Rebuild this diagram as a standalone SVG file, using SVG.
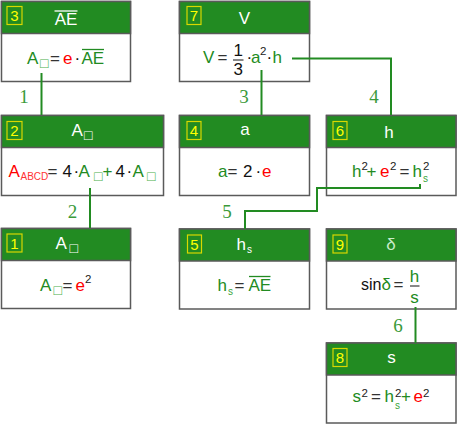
<svg xmlns="http://www.w3.org/2000/svg" width="457" height="425" viewBox="0 0 457 425">
<style>
text{font-family:"Liberation Sans",Arial,sans-serif;font-size:17px}
.box{fill:#fff;stroke:#5a5a5a;stroke-width:1.5}
.hd{fill:#228b22;stroke:#5a5a5a;stroke-width:1.5}
.bd{fill:none;stroke:#d8d800;stroke-width:1.2}
.bn{fill:#ffff00;font-size:15px;text-anchor:middle}
.t{fill:#fff;text-anchor:middle}
.tw{fill:#fff}
.g{fill:#228b22}
.r{fill:#f00}
.k{fill:#111}
.q{fill:#333}
.sq{fill:#4cb04c;font-size:14px}
.sqw{fill:#fff;font-size:14px}
.sup{fill:#222;font-size:11.5px}
.sub{fill:#3aa53a;font-size:10px}
.ov{stroke:#228b22;stroke-width:1.3}
.fr{stroke:#111;stroke-width:1}
.cn{fill:none;stroke:#228b22;stroke-width:2}
.lb{font-family:"Liberation Serif","Times New Roman",serif;font-size:19px;fill:#3a9a3a;text-anchor:middle}
</style>

<g id="node3">
<rect class="box" x="1.5" y="1.5" width="129" height="80"/>
<rect class="hd" x="1.5" y="1.5" width="129" height="32"/>
<rect class="bd" x="7" y="6.5" width="15" height="18"/>
<text class="bn" x="14.5" y="21">3</text>
<text class="t" x="66" y="25">AE</text>
<line x1="54.5" y1="11" x2="77.5" y2="11" stroke="#fff" stroke-width="1.3"/>
<text x="27" y="64" class="g">A</text>
<text x="40" y="68" class="sq">□</text>
<text x="50" y="64" class="q">=</text>
<text x="63" y="64" class="r">e</text>
<text x="74.5" y="64" class="k">·</text>
<text x="81.5" y="64" class="g">AE</text>
<line class="ov" x1="82" y1="49.5" x2="104" y2="49.5"/>
</g>

<g id="node2">
<rect class="box" x="1.5" y="115.5" width="162" height="80"/>
<rect class="hd" x="1.5" y="115.5" width="162" height="32"/>
<rect class="bd" x="7" y="121.5" width="15" height="18"/>
<text class="bn" x="14.5" y="136">2</text>
<text class="tw" x="71.5" y="136">A</text>
<text class="sqw" x="84" y="140">□</text>
<text x="8.5" y="177" class="r">A</text>
<text x="20.5" y="179.5" class="r" style="font-size:10px;fill:#f33">ABCD</text>
<text x="47.5" y="177" class="q">=</text>
<text x="62.5" y="177" class="k">4</text>
<text x="73.5" y="177" class="k">·</text>
<text x="78.5" y="177" class="g">A</text>
<text x="94" y="181" class="sq">□</text>
<text x="102.5" y="177" class="g">+</text>
<text x="115.5" y="177" class="k">4</text>
<text x="126.5" y="177" class="k">·</text>
<text x="132.5" y="177" class="g">A</text>
<text x="147" y="181" class="sq">□</text>
</g>

<g id="node1">
<rect class="box" x="1.5" y="228.5" width="129" height="80"/>
<rect class="hd" x="1.5" y="228.5" width="129" height="32"/>
<rect class="bd" x="7" y="234" width="15" height="18"/>
<text class="bn" x="14.5" y="248.5">1</text>
<text class="tw" x="55.5" y="249">A</text>
<text class="sqw" x="69.5" y="253">□</text>
<text x="40" y="291" class="g">A</text>
<text x="53.5" y="295" class="sq">□</text>
<text x="62.5" y="291" class="q">=</text>
<text x="75.5" y="291" class="r">e</text>
<text x="85" y="283" class="sup">2</text>
</g>

<g id="node7">
<rect class="box" x="179.5" y="1.5" width="130" height="80"/>
<rect class="hd" x="179.5" y="1.5" width="130" height="32"/>
<rect class="bd" x="187" y="6.5" width="14" height="18"/>
<text class="bn" x="194" y="21">7</text>
<text class="t" x="244.5" y="24">V</text>
<text x="203" y="63" class="g">V</text>
<text x="217.5" y="63" class="q">=</text>
<text x="238.3" y="56" class="k" text-anchor="middle">1</text>
<line class="fr" x1="233" y1="60" x2="243.5" y2="60"/>
<text x="238.3" y="75" class="k" text-anchor="middle">3</text>
<text x="246.5" y="63" class="k">·</text>
<text x="251" y="63" class="g">a</text>
<text x="260" y="55" class="sup">2</text>
<text x="266.5" y="63" class="k">·</text>
<text x="272.5" y="63" class="g">h</text>
</g>

<g id="node4">
<rect class="box" x="179.5" y="115.5" width="130" height="80"/>
<rect class="hd" x="179.5" y="115.5" width="130" height="32"/>
<rect class="bd" x="187" y="121.5" width="14" height="18"/>
<text class="bn" x="194" y="136">4</text>
<text class="t" x="245" y="135">a</text>
<text x="218" y="177" class="g">a</text>
<text x="227.5" y="177" class="q">=</text>
<text x="243" y="177" class="k">2</text>
<text x="255.5" y="177" class="k">·</text>
<text x="262" y="177" class="r">e</text>
</g>

<g id="node6">
<rect class="box" x="326.5" y="115.5" width="129.5" height="80"/>
<rect class="hd" x="326.5" y="115.5" width="129.5" height="32"/>
<rect class="bd" x="333" y="121.5" width="14" height="18"/>
<text class="bn" x="340" y="136">6</text>
<text class="t" x="389" y="138">h</text>
<text x="352" y="177" class="g">h</text>
<text x="361.5" y="169.5" class="sup">2</text>
<text x="366.5" y="177" class="g">+</text>
<text x="380" y="177" class="r">e</text>
<text x="390" y="169.5" class="sup">2</text>
<text x="399.5" y="177" class="q">=</text>
<text x="412.5" y="177" class="g">h</text>
<text x="423" y="169.5" class="sup">2</text>
<text x="423" y="181.5" class="sub">s</text>
</g>

<g id="node5">
<rect class="box" x="179.5" y="229" width="130" height="80"/>
<rect class="hd" x="179.5" y="229" width="130" height="32"/>
<rect class="bd" x="187.5" y="235" width="14" height="18"/>
<text class="bn" x="194.5" y="249.5">5</text>
<text class="tw" x="236.5" y="250">h</text>
<text class="tw" x="247" y="253" style="font-size:10px">s</text>
<text x="217.5" y="291" class="g">h</text>
<text x="228" y="295" class="sub">s</text>
<text x="234.5" y="291" class="q">=</text>
<text x="248.5" y="291" class="g">AE</text>
<line class="ov" x1="249" y1="276.5" x2="270.5" y2="276.5"/>
</g>

<g id="node9">
<rect class="box" x="326.5" y="229" width="129.5" height="80"/>
<rect class="hd" x="326.5" y="229" width="129.5" height="32"/>
<rect class="bd" x="333" y="235" width="14" height="18"/>
<text class="bn" x="340" y="249.5">9</text>
<text class="t" x="391" y="250" style="fill:#c8ecc8">δ</text>
<text x="361" y="290" class="k" style="font-size:16px">sin</text>
<text x="381.5" y="290" class="g">δ</text>
<text x="393.5" y="290" class="q">=</text>
<text x="414.5" y="281.5" class="g" text-anchor="middle">h</text>
<line class="fr" x1="410" y1="286" x2="419.5" y2="286"/>
<text x="414.5" y="303" class="g" text-anchor="middle">s</text>
</g>

<g id="node8">
<rect class="box" x="326.5" y="343" width="129.5" height="80"/>
<rect class="hd" x="326.5" y="343" width="129.5" height="32"/>
<rect class="bd" x="333" y="348.5" width="14" height="18"/>
<text class="bn" x="340" y="363">8</text>
<text class="t" x="391.5" y="363">s</text>
<text x="352.5" y="402" class="g">s</text>
<text x="361.5" y="397" class="sup">2</text>
<text x="371" y="402" class="q">=</text>
<text x="384.5" y="402" class="g">h</text>
<text x="395" y="397" class="sup">2</text>
<text x="395" y="408.5" class="sub">s</text>
<text x="401" y="402" class="g">+</text>
<text x="413.5" y="402" class="r">e</text>
<text x="423" y="397" class="sup">2</text>
</g>

<g id="connectors">
<path class="cn" d="M41.5 73 V115"/>
<path class="cn" d="M90 188 V228"/>
<path class="cn" d="M261.5 70 V115"/>
<path class="cn" d="M292 58.5 H391 V115"/>
<path class="cn" d="M420 184 V188 H317 V211 H245 V229"/>
<path class="cn" d="M415.5 307 V343"/>
<text class="lb" x="24" y="103">1</text>
<text class="lb" x="72.5" y="218">2</text>
<text class="lb" x="244" y="103">3</text>
<text class="lb" x="374" y="103">4</text>
<text class="lb" x="227" y="218">5</text>
<text class="lb" x="398" y="331.5">6</text>
</g>
</svg>
